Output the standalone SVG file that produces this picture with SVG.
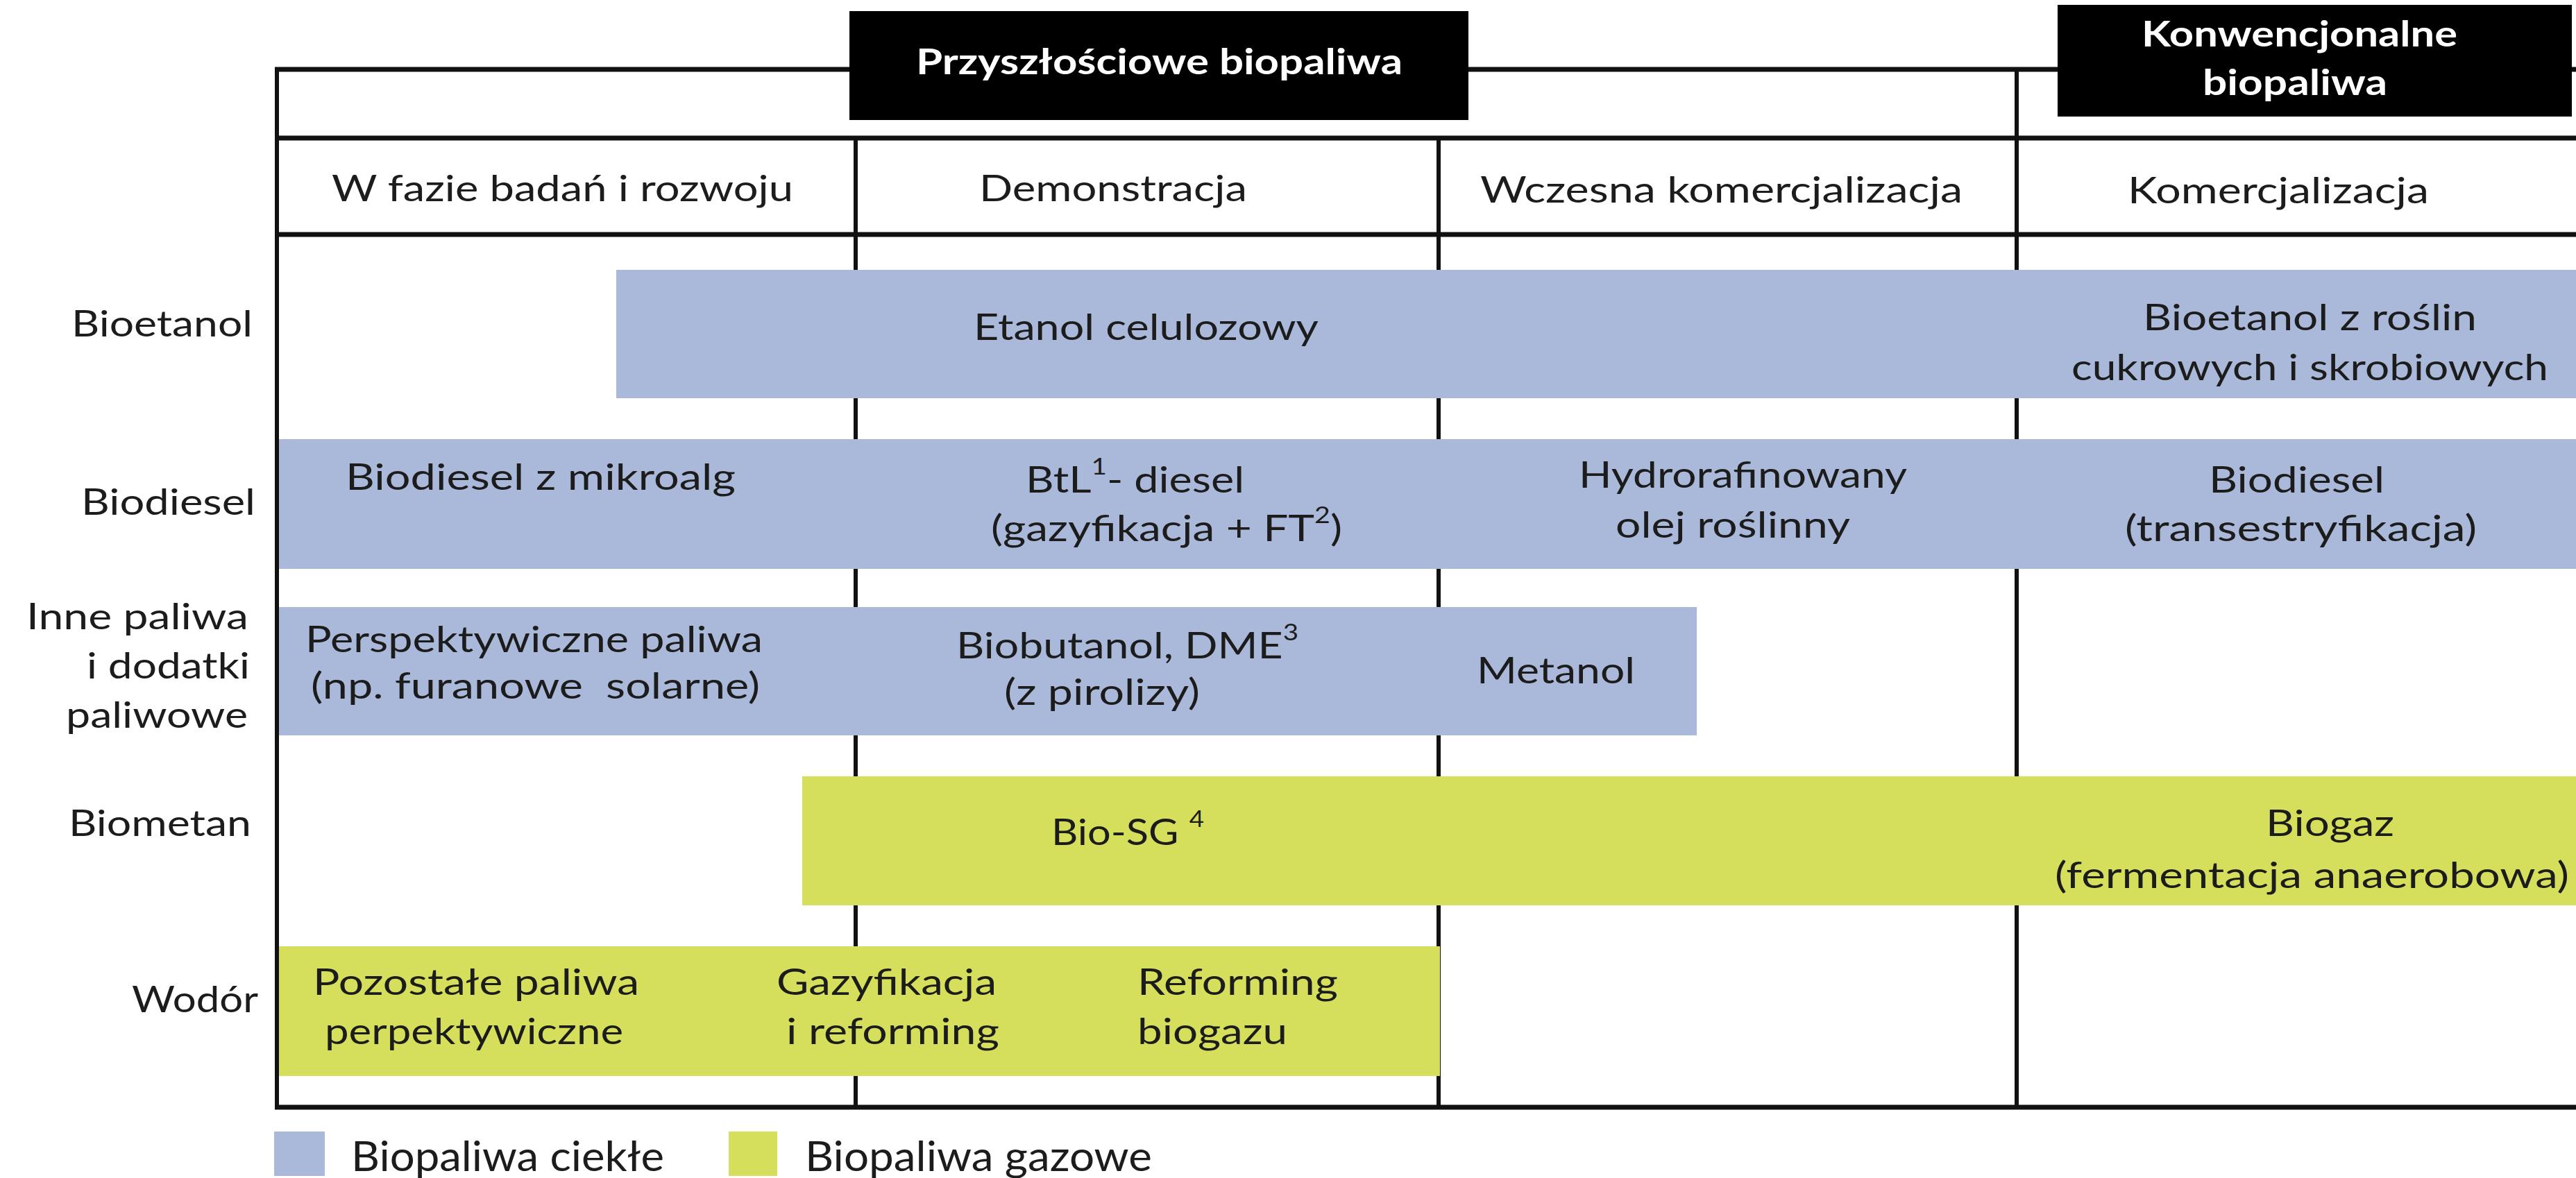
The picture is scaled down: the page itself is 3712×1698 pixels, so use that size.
<svg xmlns="http://www.w3.org/2000/svg" width="3712" height="1698" viewBox="0 0 3712 1698">
<style>
text { font-family: Lato, "Liberation Sans", "Open Sans", sans-serif; fill: #1c1c1c; font-size: 52px; }
.hdr { font-size: 53px; }
.lbl { font-size: 53px; }
.ttl { fill: #ffffff; font-weight: bold; }
.leg { font-size: 60px; }
.sup { font-size: 32px; }
.liquid { fill: #aab9d9; }
.gas { fill: #d5df5c; }
.line { stroke: #111111; stroke-width: 7; fill: none; }
.vline { stroke: #111111; stroke-width: 6; fill: none; }
</style>
<rect width="3712" height="1698" fill="#ffffff"/>
<g id="grid">
  <line class="line" x1="396" y1="100" x2="3712" y2="100"/>
  <line class="line" x1="396" y1="199" x2="3712" y2="199"/>
  <line class="line" x1="396" y1="338" x2="3712" y2="338"/>
  <line class="line" x1="396" y1="1596" x2="3712" y2="1596"/>
  <line class="vline" x1="399" y1="97" x2="399" y2="1599"/>
  <line class="vline" x1="1233" y1="199" x2="1233" y2="1596"/>
  <line class="vline" x1="2073" y1="199" x2="2073" y2="1596"/>
  <line class="vline" x1="2906" y1="100" x2="2906" y2="1596"/>
</g>
<g id="title-future">
  <rect x="1224" y="16" width="892" height="157" fill="#000000"/>
  <text class="ttl" x="1320" y="107" font-size="58" textLength="701" lengthAdjust="spacingAndGlyphs">Przyszłościowe biopaliwa</text>
</g>
<g id="title-conventional">
  <rect x="2965" y="7" width="741" height="161" fill="#000000"/>
  <text class="ttl" x="3086" y="67" font-size="50" textLength="455" lengthAdjust="spacingAndGlyphs">Konwencjonalne</text>
  <text class="ttl" x="3174" y="137" font-size="50" textLength="266" lengthAdjust="spacingAndGlyphs">biopaliwa</text>
</g>
<g id="stage-headers">
  <text class="hdr" x="478" y="290" textLength="665" lengthAdjust="spacingAndGlyphs">W fazie badań i rozwoju</text>
  <text class="hdr" x="1411" y="290" textLength="386" lengthAdjust="spacingAndGlyphs">Demonstracja</text>
  <text class="hdr" x="2133" y="292" textLength="695" lengthAdjust="spacingAndGlyphs">Wczesna komercjalizacja</text>
  <text class="hdr" x="3066" y="293" textLength="434" lengthAdjust="spacingAndGlyphs">Komercjalizacja</text>
</g>
<g id="row-labels">
  <text class="lbl" x="103" y="485" textLength="261" lengthAdjust="spacingAndGlyphs">Bioetanol</text>
  <text class="lbl" x="117" y="742" textLength="251" lengthAdjust="spacingAndGlyphs">Biodiesel</text>
  <text class="lbl" x="38" y="907" textLength="320" lengthAdjust="spacingAndGlyphs">Inne paliwa</text>
  <text class="lbl" x="125" y="978" textLength="235" lengthAdjust="spacingAndGlyphs">i dodatki</text>
  <text class="lbl" x="95" y="1049" textLength="262" lengthAdjust="spacingAndGlyphs">paliwowe</text>
  <text class="lbl" x="99" y="1205" textLength="263" lengthAdjust="spacingAndGlyphs">Biometan</text>
  <text class="lbl" x="190" y="1459" textLength="182" lengthAdjust="spacingAndGlyphs">Wodór</text>
</g>
<g id="bar-bioetanol">
  <rect class="liquid" x="888" y="389" width="2824" height="185"/>
  <text x="1403" y="490" textLength="497" lengthAdjust="spacingAndGlyphs">Etanol celulozowy</text>
  <text x="3088" y="476" textLength="481" lengthAdjust="spacingAndGlyphs">Bioetanol z roślin</text>
  <text x="2985" y="548" textLength="687" lengthAdjust="spacingAndGlyphs">cukrowych i skrobiowych</text>
</g>
<g id="bar-biodiesel">
  <rect class="liquid" x="402" y="633" width="3310" height="187"/>
  <text x="498" y="706" textLength="562" lengthAdjust="spacingAndGlyphs">Biodiesel z mikroalg</text>
  <text x="1478" y="710" textLength="315" lengthAdjust="spacingAndGlyphs">BtL<tspan class="sup" dy="-26">1</tspan><tspan dy="26">- diesel</tspan></text>
  <text x="1428" y="780" textLength="506" lengthAdjust="spacingAndGlyphs">(gazyfikacja + FT<tspan class="sup" dy="-26">2</tspan><tspan dy="26">)</tspan></text>
  <text x="2275" y="703" textLength="473" lengthAdjust="spacingAndGlyphs">Hydrorafinowany</text>
  <text x="2328" y="775" textLength="338" lengthAdjust="spacingAndGlyphs">olej roślinny</text>
  <text x="3183" y="710" textLength="253" lengthAdjust="spacingAndGlyphs">Biodiesel</text>
  <text x="3062" y="780" textLength="507" lengthAdjust="spacingAndGlyphs">(transestryfikacja)</text>
</g>
<g id="bar-inne">
  <rect class="liquid" x="402" y="875" width="2043" height="185"/>
  <text x="440" y="940" textLength="659" lengthAdjust="spacingAndGlyphs">Perspektywiczne paliwa</text>
  <text x="448" y="1007" xml:space="preserve" textLength="647" lengthAdjust="spacingAndGlyphs">(np. furanowe  solarne)</text>
  <text x="1378" y="949" textLength="493" lengthAdjust="spacingAndGlyphs">Biobutanol, DME<tspan class="sup" dy="-26">3</tspan></text>
  <text x="1447" y="1016" textLength="282" lengthAdjust="spacingAndGlyphs">(z pirolizy)</text>
  <text x="2128" y="985" textLength="228" lengthAdjust="spacingAndGlyphs">Metanol</text>
</g>
<g id="bar-biometan">
  <rect class="gas" x="1156" y="1119" width="2556" height="186"/>
  <text x="1515" y="1218" xml:space="preserve" textLength="220" lengthAdjust="spacingAndGlyphs">Bio-SG <tspan class="sup" dy="-26">4</tspan></text>
  <text x="3265" y="1205" textLength="185" lengthAdjust="spacingAndGlyphs">Biogaz</text>
  <text x="2961" y="1280" textLength="741" lengthAdjust="spacingAndGlyphs">(fermentacja anaerobowa)</text>
</g>
<g id="bar-wodor">
  <rect class="gas" x="402" y="1364" width="1673" height="187"/>
  <text x="451" y="1434" textLength="470" lengthAdjust="spacingAndGlyphs">Pozostałe paliwa</text>
  <text x="468" y="1505" textLength="430" lengthAdjust="spacingAndGlyphs">perpektywiczne</text>
  <text x="1119" y="1434" textLength="317" lengthAdjust="spacingAndGlyphs">Gazyfikacja</text>
  <text x="1133" y="1505" textLength="307" lengthAdjust="spacingAndGlyphs">i reforming</text>
  <text x="1639" y="1434" textLength="289" lengthAdjust="spacingAndGlyphs">Reforming</text>
  <text x="1639" y="1505" textLength="216" lengthAdjust="spacingAndGlyphs">biogazu</text>
</g>
<g id="legend-liquid">
  <rect class="liquid" x="395" y="1631" width="73" height="64"/>
  <text class="leg" x="506" y="1688" textLength="451" lengthAdjust="spacingAndGlyphs">Biopaliwa ciekłe</text>
</g>
<g id="legend-gas">
  <rect class="gas" x="1050" y="1631" width="70" height="64"/>
  <text class="leg" x="1160" y="1688" textLength="500" lengthAdjust="spacingAndGlyphs">Biopaliwa gazowe</text>
</g>
</svg>
